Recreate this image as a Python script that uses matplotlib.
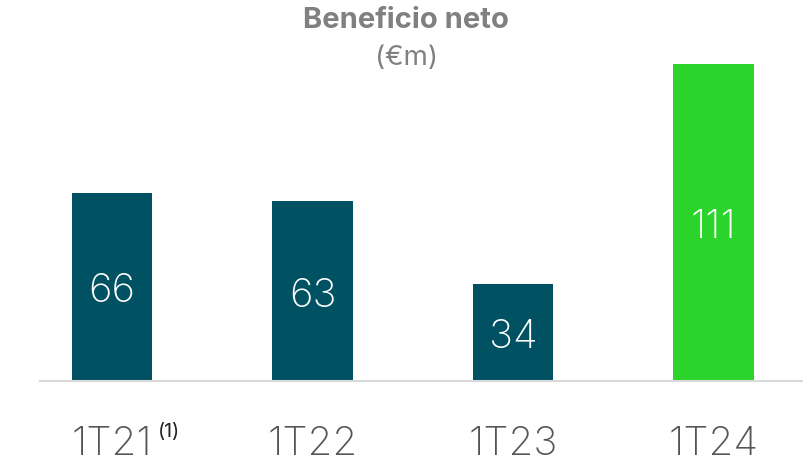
import matplotlib
matplotlib.use("Agg")
import matplotlib.pyplot as plt

plt.rcParams['font.family'] = ['Inter', 'DejaVu Sans']

categorias = ["1T21", "1T22", "1T23", "1T24"]
valores = [66, 63, 34, 111]
colores = ["#005263", "#005263", "#005263", "#2BD42B"]

fig = plt.figure(figsize=(8.04, 4.64), dpi=100)
ax = fig.add_axes([40 / 804, 82 / 464, 764 / 804, 352 / 464])

x = range(len(categorias))
bars = ax.bar(x, valores, width=0.4, color=colores)

for b, v in zip(bars, valores):
    ax.text(b.get_x() + b.get_width() / 2, v / 2, str(v), ha="center", va="center_baseline",
            color="white", fontsize=29, fontweight="light")

ax.set_xlim(-0.359, 3.451)
ax.set_ylim(0, 123.3)
ax.set_xticks(list(x))
ax.set_xticklabels(categorias, fontsize=29, color="#555555", fontweight="light")
ax.tick_params(axis="x", length=0, pad=32)
ax.set_yticks([])
for s in ["top", "right", "left"]:
    ax.spines[s].set_visible(False)
ax.spines["bottom"].set_color("#d9d9d9")
ax.spines["bottom"].set_linewidth(1.5)

# nota (1) junto a 1T21
ax.annotate("(1)", xy=(0, 0), xycoords="data", xytext=(41, -36), textcoords="offset points",
            fontsize=14, color="#222222", ha="center", va="center")

fig.text(406 / 804, 1 - 21 / 464, "Beneficio neto", ha="center", va="center",
         fontsize=21, fontweight="bold", color="#808080")
fig.text(407 / 804, 1 - 58 / 464, "(€m)", ha="center", va="center",
         fontsize=20, color="#808080")

fig.savefig("out.png", dpi=100)
